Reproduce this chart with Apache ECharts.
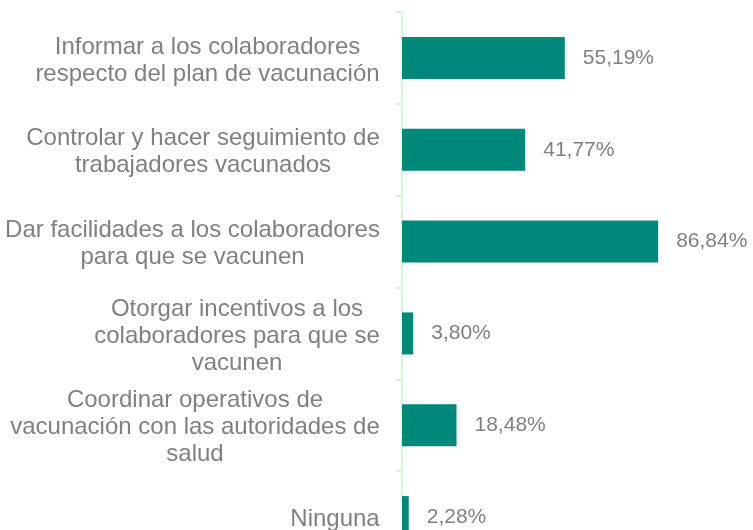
<!DOCTYPE html>
<html>
<head>
<meta charset="utf-8">
<script src="https://cdn.jsdelivr.net/npm/echarts@6/dist/echarts.min.js"></script>
<style>
  html, body { margin: 0; padding: 0; background: #fff; }
  #chart { width: 753px; height: 530px; }
</style>
</head>
<body>
<div id="chart"></div>
<script>
// medidas de apoyo a la vacunación (% de empresas)
const categories = [
  'Informar a los colaboradores\nrespecto del plan de vacunación',
  'Controlar y hacer seguimiento de\ntrabajadores vacunados',
  'Dar facilidades a los colaboradores\npara que se vacunen',
  'Otorgar incentivos a los\ncolaboradores para que se\nvacunen',
  'Coordinar operativos de\nvacunación con las autoridades de\nsalud',
  'Ninguna',
]
const values = [55.19, 41.77, 86.84, 3.80, 18.48, 2.28]

const TEAL = '#00897b'
const GRAY = '#808080'
const AXIS = '#d5f5df'
const FONT = 'Liberation Sans, Arial, sans-serif'
const LABEL_SIZE = 24

// width of the widest line, so lines are centred within their own block
const ctx = document.createElement('canvas').getContext('2d')
ctx.font = LABEL_SIZE + 'px ' + FONT
const blockWidth = v => Math.ceil(Math.max(...v.split('\n').map(l => ctx.measureText(l).width)))

const chart = echarts.init(document.getElementById('chart'))
chart.setOption({
  animation: false,
  textStyle: { fontFamily: FONT },
  // last band runs past the bottom edge, like the original
  grid: { left: 402, top: 12, width: 295, height: 551, outerBoundsMode: 'none', containLabel: false },
  xAxis: { type: 'value', min: 0, max: 100, show: false },
  yAxis: {
    type: 'category',
    inverse: true,
    data: categories,
    axisLine: { show: true, lineStyle: { color: AXIS, width: 2 } },
    axisTick: { show: true, length: 6, lineStyle: { color: AXIS, width: 2 } },
    axisLabel: {
      margin: 22,
      align: 'right',
      padding: [5, 0, 0, 0],
      formatter: v => {
        const w = blockWidth(v)
        return v.split('\n').map(l => '{c' + w + '|' + l + '}').join('\n')
      },
      rich: Object.fromEntries(categories.map(v => {
        const w = blockWidth(v)
        return ['c' + w, { width: w, align: 'center', color: GRAY, fontSize: LABEL_SIZE, lineHeight: 27, fontFamily: FONT }]
      })),
    },
  },
  series: [{
    type: 'bar',
    data: values,
    barWidth: 42,
    itemStyle: { color: TEAL },
    label: {
      show: true,
      position: 'right',
      distance: 18,
      color: GRAY,
      fontSize: 21,
      formatter: p => p.value.toFixed(2).replace('.', ',') + '%',
    },
  }],
})
</script>
</body>
</html>
